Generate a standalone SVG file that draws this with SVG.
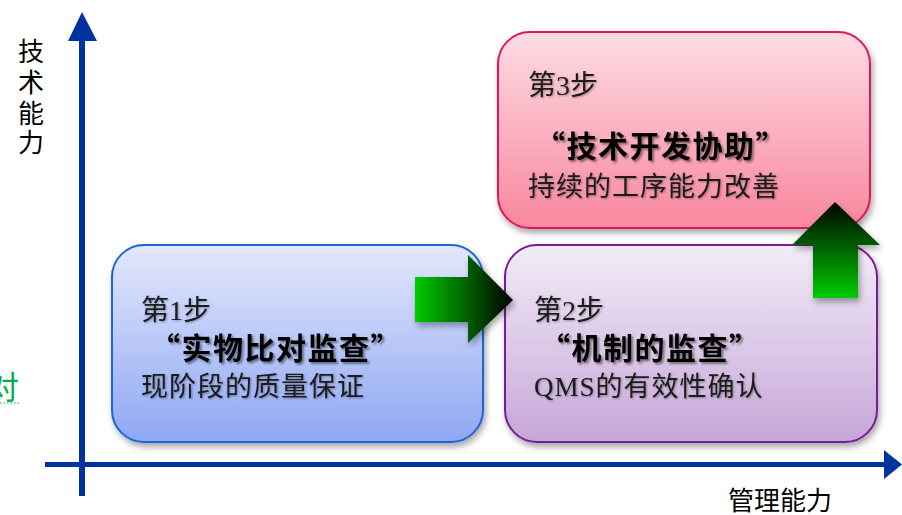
<svg xmlns="http://www.w3.org/2000/svg" width="902" height="515" viewBox="0 0 902 515">
<defs>
<style>
.axis{fill:#0033a0;}
.lbl{font-family:"Noto Sans CJK SC","Noto Sans",sans-serif;font-size:26px;fill:#000;}
.step{font-family:"Liberation Serif","Noto Sans CJK SC",serif;font-size:28px;fill:#1a1a1a;filter:url(#ts);}
.title{font-family:"Noto Sans CJK SC","Noto Sans",sans-serif;font-size:30px;font-weight:bold;fill:#000;letter-spacing:1.5px;filter:url(#tsb);}
.desc{font-family:"Liberation Serif","Noto Sans CJK SC",serif;font-size:27px;fill:#1a1a1a;letter-spacing:1px;filter:url(#ts);}
</style>
<linearGradient id="gBlue" x1="0" y1="0" x2="0" y2="1"><stop offset="0" stop-color="#e3e8fc"/><stop offset="1" stop-color="#8ea7f5"/></linearGradient>
<linearGradient id="gPurple" x1="0" y1="0" x2="0" y2="1"><stop offset="0" stop-color="#f2ecf7"/><stop offset="1" stop-color="#c6a6d8"/></linearGradient>
<linearGradient id="gPink" x1="0" y1="0" x2="0" y2="1"><stop offset="0" stop-color="#fddce4"/><stop offset="1" stop-color="#f9879e"/></linearGradient>
<linearGradient id="gRight" x1="0" y1="0" x2="1" y2="0"><stop offset="0" stop-color="#00cc00"/><stop offset="1" stop-color="#000000"/></linearGradient>
<linearGradient id="gUp" x1="0" y1="1" x2="0" y2="0"><stop offset="0" stop-color="#00cc00"/><stop offset="1" stop-color="#000000"/></linearGradient>
<filter id="sh" x="-10%" y="-10%" width="125%" height="130%"><feDropShadow dx="2" dy="4" stdDeviation="3" flood-color="#000" flood-opacity="0.35"/></filter>
<filter id="ts" x="-5%" y="-20%" width="115%" height="150%"><feDropShadow dx="1" dy="1" stdDeviation="0.8" flood-color="#000" flood-opacity="0.35"/></filter>
<filter id="tsb" x="-5%" y="-20%" width="115%" height="150%"><feDropShadow dx="2" dy="2" stdDeviation="1" flood-color="#000" flood-opacity="0.45"/></filter>
</defs>
<rect width="902" height="515" fill="#fff"/>

<g id="axes">
<rect class="axis" x="79" y="40" width="6" height="456"/>
<polygon class="axis" points="82,12 68,41 97,41"/>
<rect class="axis" x="45" y="462" width="842" height="5"/>
<polygon class="axis" points="902,464.5 884,450 884,479"/>
</g>

<g id="axis-labels">
<text class="lbl" text-anchor="middle"><tspan x="31" y="61">技</tspan><tspan x="31" y="92">术</tspan><tspan x="31" y="123">能</tspan><tspan x="31" y="152">力</tspan></text>
<text class="lbl" x="780" y="510" text-anchor="middle" font-size="27">管理能力</text>
</g>

<g id="partial-text">
<text x="19" y="399" text-anchor="end" font-family="Noto Sans CJK SC,sans-serif" font-size="32" fill="#00b050">对</text>
<line x1="0" y1="403" x2="19" y2="403" stroke="#00b050" stroke-width="1.2" stroke-dasharray="1.5,2"/>
</g>

<g id="step1">
<rect x="112" y="245" width="371" height="197" rx="32" fill="url(#gBlue)" stroke="#1a66d9" stroke-width="2" filter="url(#sh)"/>
<text class="step" x="141" y="320">第1步</text>
<text class="title" x="150" y="359">“实物比对监查”</text>
<text class="desc" x="141" y="396">现阶段的质量保证</text>
</g>

<g id="step2">
<rect x="505" y="245" width="372" height="197" rx="32" fill="url(#gPurple)" stroke="#7a1a9a" stroke-width="2" filter="url(#sh)"/>
<text class="step" x="534" y="320">第2步</text>
<text class="title" x="540" y="359">“机制的监查”</text>
<text class="desc" x="534" y="396">QMS的有效性确认</text>
</g>

<g id="step3">
<rect x="498" y="32" width="372" height="196" rx="32" fill="url(#gPink)" stroke="#e0185c" stroke-width="2" filter="url(#sh)"/>
<text class="step" x="528" y="95">第3步</text>
<text class="title" x="535" y="157">“技术开发协助”</text>
<text class="desc" x="528" y="196">持续的工序能力改善</text>
</g>

<g id="connectors">
<polygon points="415,277 468,277 468,255 513,300 468,343 468,322 415,322" fill="url(#gRight)" filter="url(#sh)"/>
<polygon points="835,202 880,245 858,245 858,298 813,298 813,245 792,245" fill="url(#gUp)" filter="url(#sh)"/>
</g>
</svg>
